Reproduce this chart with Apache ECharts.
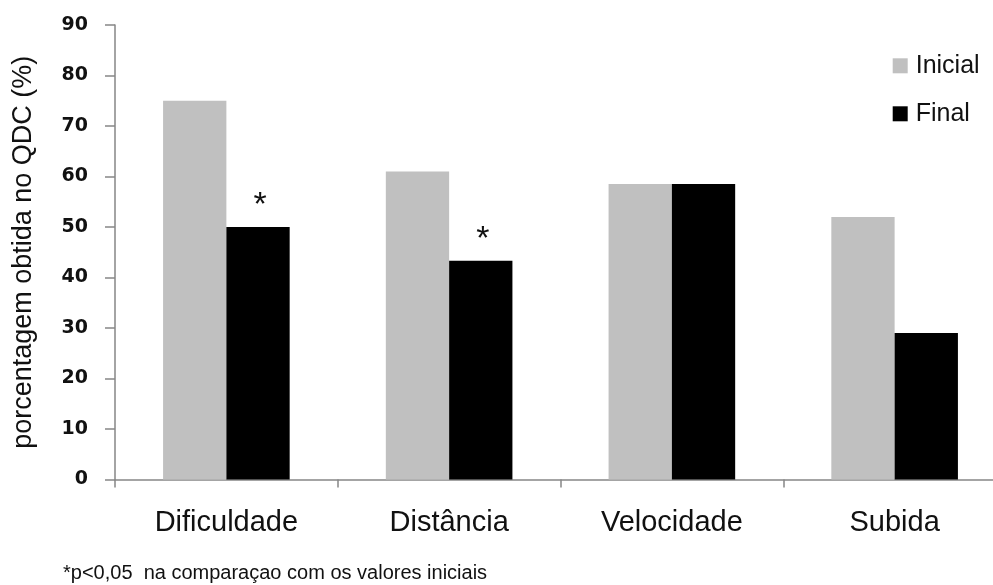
<!DOCTYPE html>
<html>
<head>
<meta charset="utf-8">
<script src="https://cdn.jsdelivr.net/npm/echarts@6/dist/echarts.min.js"></script>
<style>
  html, body { margin: 0; padding: 0; background: #fff; }
  #chart { width: 993px; height: 585px; }
</style>
</head>
<body>
<div id="chart"></div>
<script>
// ---- data ----
const categories = ['Dificuldade', 'Distância', 'Velocidade', 'Subida'];
const inicialValues = [75, 61, 58.5, 52];
const finalValues = [50, 43.3, 58.5, 29];
const significance = ['*', '*', '', ''];
const yMin = 0, yMax = 90, yInterval = 10;
const yAxisName = 'porcentagem obtida no QDC (%)';
const footnote = '*p<0,05  na comparaçao com os valores iniciais';
const seriesNames = ['Inicial', 'Final'];

const chart = echarts.init(document.getElementById('chart'));
const axisGray = '#868686';
const textColor = '#111';
const font = 'Liberation Sans, Arial, sans-serif';

chart.setOption({
  animation: false,
  backgroundColor: '#fff',
  grid: { left: 115, top: 25, width: 891, height: 454.5, containLabel: false, outerBoundsMode: 'none' },
  legend: {
    orient: 'vertical',
    left: 892.7,
    top: 53.3,
    padding: 0,
    itemWidth: 15,
    itemHeight: 15,
    itemGap: 23,
    icon: 'rect',
    data: seriesNames,
    textStyle: { fontFamily: font, fontSize: 25, color: textColor, padding: [0, 0, 0, 3], lineHeight: 25 }
  },
  xAxis: {
    type: 'category',
    data: categories,
    axisLine: { lineStyle: { color: axisGray, width: 1.5 } },
    axisTick: { show: true, length: 8, lineStyle: { color: axisGray, width: 1.5 } },
    axisLabel: { fontFamily: font, fontSize: 29, color: textColor, margin: 29 }
  },
  yAxis: {
    type: 'value',
    min: yMin, max: yMax, interval: yInterval,
    name: yAxisName,
    nameLocation: 'middle',
    nameGap: 78,
    nameRotate: 90,
    nameTextStyle: { fontFamily: font, fontSize: 27, color: textColor },
    axisLine: { show: true, lineStyle: { color: axisGray, width: 1.5 } },
    axisTick: { show: true, length: 10, lineStyle: { color: axisGray, width: 1.5 } },
    splitLine: { show: false },
    axisLabel: { fontFamily: 'DejaVu Sans, sans-serif', fontWeight: 'bold', fontSize: 19, color: textColor, margin: 27 }
  },
  series: [
    {
      name: seriesNames[0], type: 'bar', data: inicialValues,
      barWidth: 63.3, barGap: '0%',
      itemStyle: { color: '#c0c0c0' }
    },
    {
      name: seriesNames[1], type: 'bar', data: finalValues,
      barWidth: 63.3, barGap: '0%',
      itemStyle: { color: '#000000' },
      label: {
        show: true, position: 'top', distance: 4, offset: [2, 0],
        fontFamily: font, fontSize: 34, color: textColor,
        formatter: p => significance[p.dataIndex]
      }
    }
  ],
  graphic: [
    {
      type: 'text', left: 63, top: 563,
      style: { text: footnote, font: '20px Liberation Sans, Arial, sans-serif', fill: textColor }
    }
  ]
});
</script>
</body>
</html>
